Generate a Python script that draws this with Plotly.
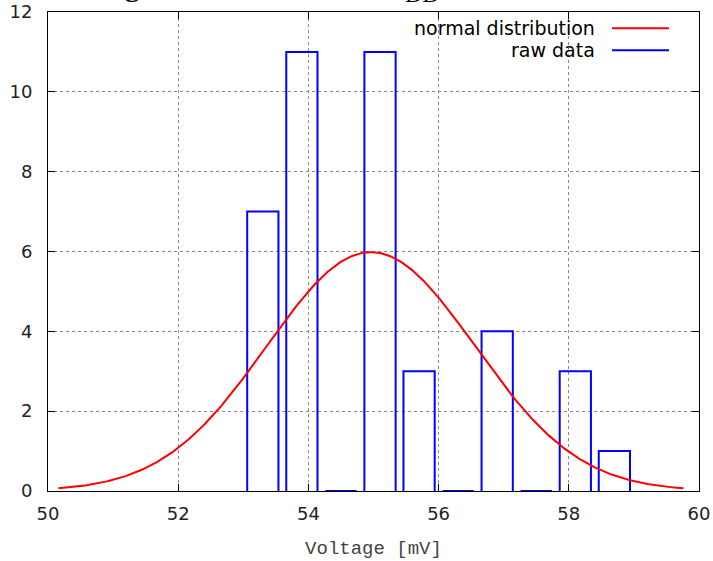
import numpy as np
import plotly.graph_objects as go

# histogram of the measured voltages
bin_centers = [53.3, 53.9, 54.5, 55.1, 55.7, 56.3, 56.9, 57.5, 58.1, 58.7]
counts = [7, 11, 0, 11, 3, 0, 4, 0, 3, 1]
bin_width = 0.6
box_fraction = 0.8

# fitted normal distribution
fit_mean = 54.96
fit_sigma = 1.60

x_ticks = [50, 52, 54, 56, 58, 60]
y_ticks = [0, 2, 4, 6, 8, 10, 12]

# open box outlines: up the left edge, across the top, down the right edge
half = bin_width * box_fraction / 2
box_x, box_y = [], []
for c, n in zip(bin_centers, counts):
    box_x += [c - half, c - half, c + half, c + half, None]
    box_y += [0, n, n, 0, None]

# normal curve scaled to the histogram area, drawn over mean +/- 3 sigma
total = sum(counts)
curve_x = np.linspace(fit_mean - 3 * fit_sigma, fit_mean + 3 * fit_sigma, 401)
curve_y = (total * bin_width / (fit_sigma * np.sqrt(2 * np.pi))
           * np.exp(-0.5 * ((curve_x - fit_mean) / fit_sigma) ** 2))

RED = "#ff0000"
BLUE = "#0000ff"

fig = go.Figure()
fig.add_trace(go.Scatter(x=box_x, y=box_y, mode="lines", name="raw data",
                         line=dict(color=BLUE, width=2), cliponaxis=False,
                         showlegend=False))
fig.add_trace(go.Scatter(x=curve_x, y=curve_y, mode="lines",
                         name="normal distribution",
                         line=dict(color=RED, width=2), showlegend=False))

tick_font = dict(family="DejaVu Sans", size=18, color="#222222")
axis_common = dict(
    ticks="inside", ticklen=7, tickwidth=1, tickcolor="#000000",
    showline=True, linecolor="#000000", linewidth=1, mirror="allticks",
    showgrid=True, gridcolor="#8a8a8a", gridwidth=1, griddash="dot",
    zeroline=False, tickfont=tick_font, automargin=False,
)

fig.update_layout(
    width=713, height=561,
    margin=dict(l=48, r=14, t=12, b=70),
    paper_bgcolor="#ffffff", plot_bgcolor="#ffffff",
    showlegend=False,
    xaxis=dict(range=[50, 60], tickvals=x_ticks, ticklabelstandoff=6,
               title=dict(text="Voltage [mV]", standoff=18,
                          font=dict(family="Liberation Mono", size=19,
                                    color="#444444")),
               **axis_common),
    yaxis=dict(range=[0, 12], tickvals=y_ticks, ticklabelstandoff=11,
               **axis_common),
)

# opaque key box hiding the grid behind the key
fig.add_shape(type="rect", xref="paper", yref="paper",
              x0=0.556, x1=1.0, y0=0.897, y1=1.0,
              fillcolor="#ffffff", line=dict(width=0), layer="between")

# key entries: label on the left, line sample on the right
key_font = dict(family="DejaVu Sans", size=19, color="#000000")
for label, color, ky in [("normal distribution", RED, 0.966),
                         ("raw data", BLUE, 0.920)]:
    fig.add_annotation(xref="paper", yref="paper", x=0.8434, y=ky,
                       xanchor="right", yanchor="middle", text=label,
                       showarrow=False, font=key_font)
    fig.add_shape(type="line", xref="paper", yref="paper",
                  x0=0.8664, x1=0.9540, y0=ky, y1=ky,
                  line=dict(color=color, width=2))

# chart title sitting above the top edge of the page; the subscript is
# set as its own smaller text so its baseline sits just below the main one
fig.add_annotation(xref="paper", yref="paper", x=0, y=1, xanchor="left",
                   yanchor="bottom", yshift=8, showarrow=False,
                   text="Histogram of measured V",
                   font=dict(family="Liberation Serif", size=34,
                             color="#000000"))
fig.add_annotation(xref="paper", yref="paper", x=0.545, y=1, xanchor="left",
                   yanchor="bottom", yshift=3, showarrow=False,
                   text="DD",
                   font=dict(family="Liberation Serif", size=24,
                             color="#000000"))

fig.write_html("out.html")
